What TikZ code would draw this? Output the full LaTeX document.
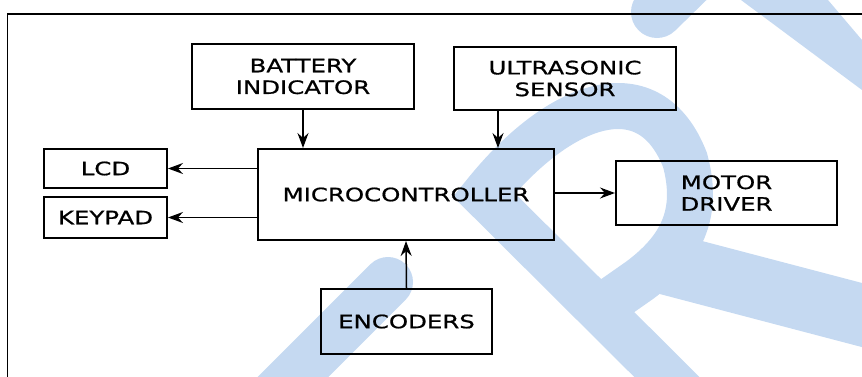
\documentclass[tikz,border=0pt]{standalone}
\usepackage{fontspec}
\setmainfont{DejaVu Sans}[FakeStretch=1.32, FakeBold=0.8]
\usepackage{xcolor}
\usepackage{tikz}
\usetikzlibrary{arrows.meta, positioning}
\definecolor{markblue}{RGB}{197, 217, 241}

\begin{document}
\begin{tikzpicture}[x=1pt, y=-1pt, >=Stealth,
    block/.style={rectangle, draw=black, line width=2pt, inner sep=0pt, align=center, font=\fontsize{18.5}{21.7}\selectfont},
    arrow/.style={line width=1.5pt, -{Stealth[length=15pt, width=11pt, inset=5pt]}},
    wmark/.style={draw=markblue, line width=46pt}]

    \useasboundingbox (0,0) rectangle (862,376);

    % Watermark
    \begin{scope}
        \clip (0,0) rectangle (862,376);
        \draw[wmark, line join=miter] (690,400) -- (484,195) .. controls (560,100) and (650,70) .. (685,160) .. controls (700,215) and (680,250) .. (640,280) -- (590,315);
        \draw[wmark, line width=62pt] (660,262) -- (900,325);
        \draw[wmark, line width=50pt, line cap=round] (260,410) -- (388,282);
        \draw[wmark, line width=52pt, line cap=round] (657,12) -- (700,-30);
        \fill[markblue] (741,0) -- (828,0) -- (862,40) -- (862,90) -- cycle;
    \end{scope}

    % Frame
    \draw[line width=1.8pt] (7.5,390) -- (7.5,14) -- (880,14);

    % Nodes
    \node[block, minimum width=222pt, minimum height=65pt] (battery) at (303,76.5) {BATTERY\\INDICATOR};
    \node[block, minimum width=222pt, minimum height=63pt] (ultra) at (565,78.5) {ULTRASONIC\\SENSOR};
    \node[block, minimum width=296pt, minimum height=91pt] (micro) at (406,194.5) {MICROCONTROLLER};
    \node[block, minimum width=123pt, minimum height=39pt] (lcd) at (105.5,168.5) {LCD};
    \node[block, minimum width=123pt, minimum height=41pt, below=7pt of lcd] (keypad) {KEYPAD};
    \node[block, minimum width=221pt, minimum height=64pt] (motor) at (726.5,193) {MOTOR\\DRIVER};
    \node[block, minimum width=171pt, minimum height=65pt] (enc) at (406.5,321.5) {ENCODERS};

    % Flows
    \draw[arrow] (battery.south) -- (battery.south |- micro.north);
    \draw[arrow] ([xshift=-67pt]ultra.south) -- ([xshift=-67pt]ultra.south |- micro.north);
    \draw[arrow] (micro.west |- lcd) -- (lcd.east);
    \draw[arrow] (micro.west |- keypad) -- (keypad.east);
    \draw[arrow] (micro.east |- motor) -- (motor.west);
    \draw[arrow] (enc.north) -- (micro.south);
\end{tikzpicture}
\end{document}
